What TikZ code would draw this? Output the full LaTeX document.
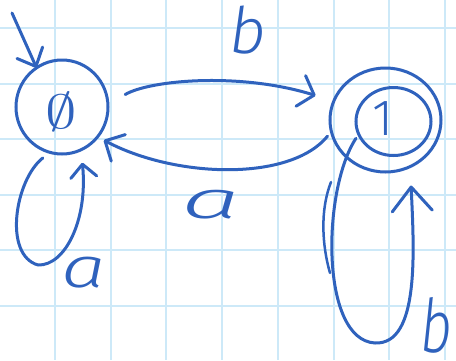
\documentclass[tikz,border=0pt]{standalone}
\usepackage{graphicx}
\usepackage{fontspec}
\newfontfamily\lab{Fira Sans}[UprightFont={* Light}, ItalicFont={* Light Italic}, BoldFont={* Light}, BoldItalicFont={* Light Italic}]
\usetikzlibrary{arrows.meta,shapes.geometric}
\definecolor{ink}{RGB}{47,98,189}
\definecolor{gridc}{RGB}{205,233,248}
\begin{document}
\begin{tikzpicture}[x=1pt,y=-1pt,
  state/.style={ellipse, draw=ink, line width=3pt, inner sep=0pt, outer sep=0pt},
  edge/.style={draw=ink, line width=3pt, line cap=round, line join=round},
  lbl/.style={text=ink, inner sep=0pt, outer sep=0pt},
  gridline/.style={draw=gridc, line width=2pt}]
\useasboundingbox (0,0) rectangle (456,360);
\fill[white] (0,0) rectangle (456,360);
\foreach \i in {0,...,7} \draw[gridline] ({55+55.7*\i},0) -- ({55+55.7*\i},360);
\foreach \j in {0,...,5} \draw[gridline] (0,{28+55.6*\j}) -- (456,{28+55.6*\j});
% states
\node[state, minimum width=92pt, minimum height=94pt] (q0) at (62,107) {};
\node[lbl] (phi) at (61,112) {\scalebox{6.3}[4.8]{$\emptyset$}};
\node[state, minimum width=111pt, minimum height=104pt] (q1) at (385.5,120) {};
\node[state, minimum width=75pt, minimum height=68pt] (q1i) at (393.5,121.5) {};
\node[lbl, anchor=base, font=\lab\fontsize{51}{51}\selectfont] (one) at (383,135) {1};
% initial arrow
\coordinate (init) at (12,13);
\draw[edge, -{Straight Barb[length=15pt,width=28pt,round]}] (init) -- (q0.123);
% b : 0 -> 1
\draw[edge, -{Straight Barb[length=14pt,width=32pt,round]}, shorten <=20pt, shorten >=19pt]
  (q0.3) .. controls (150,80) and (240,72) .. (q1.160);
% a : 1 -> 0
\draw[edge, -{Straight Barb[length=15pt,width=30pt,round]}, shorten <=6pt, shorten >=7pt]
  (q1.192) .. controls (290,182) and (175,178) .. (q0.-40);
% loop a on 0
\draw[edge, -{Straight Barb[length=13pt,width=26pt,round]}, shorten <=9pt, shorten >=13pt]
  (q0.-105) .. controls (15,180) and (3,255) .. (38,265) .. controls (65,266) and (88,220) .. (q0.-66);
% loop b on 1
\draw[edge, -{Straight Barb[length=24pt,width=40pt,round]}, shorten <=5pt, shorten >=19pt]
  (q1i.200) .. controls (322,190) and (320,340) .. (375,343) .. controls (420,345) and (414,250) .. (q1.-62);
\draw[edge, line width=2.5pt] (331,182) .. controls (320,210) and (322,245) .. (330,273);
% labels
\node[lbl, anchor=base, font=\lab\itshape\fontsize{64}{64}\selectfont] (lb1) at (248,53) {b};
\node[lbl, anchor=base, font=\lab\itshape\fontsize{53}{53}\selectfont] (la1) at (211,218) {\scalebox{2.0}[1]{a}};
\node[lbl, anchor=base, font=\lab\itshape\fontsize{57}{57}\selectfont] (la2) at (84,287) {\scalebox{1.4}[1]{a}};
\node[lbl, anchor=base west, font=\lab\itshape\fontsize{74}{74}\selectfont] (lb2) at (420,352) {\scalebox{0.75}[1]{b}};
\end{tikzpicture}
\end{document}
